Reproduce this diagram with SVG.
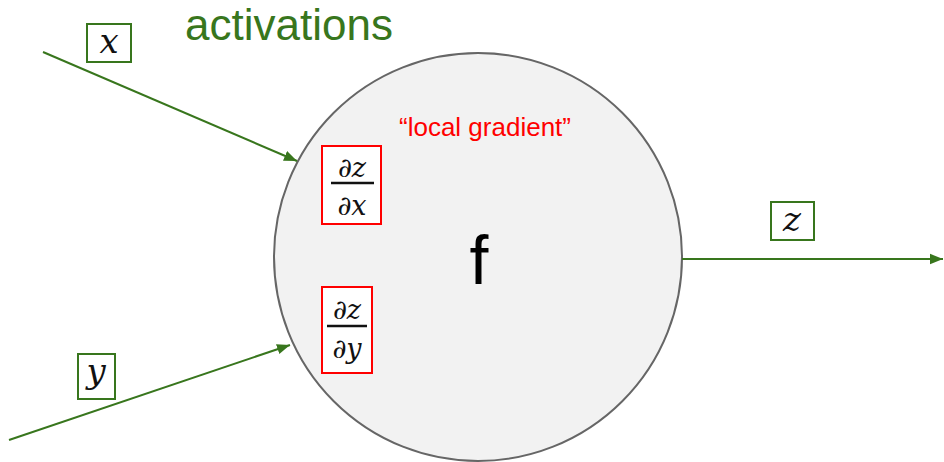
<svg xmlns="http://www.w3.org/2000/svg" width="944" height="462" viewBox="0 0 944 462">
<style>
.conn{stroke:#38761d;stroke-width:2;fill:none}
.gbox{fill:#fff;stroke:#38761d;stroke-width:2}
.rbox{fill:#fff;stroke:#ff0000;stroke-width:2}
.math{font-family:"DejaVu Serif","Liberation Serif",serif;font-style:italic;fill:#111}
.frac{font-family:"DejaVu Serif","Liberation Serif",serif;font-style:italic;fill:#111;font-size:27px;text-anchor:middle}
</style>
<defs>
<marker id="ah2" viewBox="0 0 10 10" refX="10" refY="5" markerWidth="13" markerHeight="13" markerUnits="userSpaceOnUse" orient="auto"><path d="M0,1 L10,5 L0,9 z" fill="#38761d"/></marker>
</defs>
<rect width="944" height="462" fill="#fff"/>
<g id="node-f">
<circle cx="478" cy="257" r="204" fill="#f2f2f2" stroke="#666" stroke-width="2"/>
<text x="479" y="284" font-family="Liberation Sans,Arial,sans-serif" font-size="68" text-anchor="middle" fill="#000">f</text>
</g>
<g id="connectors">
<line x1="43" y1="52" x2="297" y2="161" class="conn" marker-end="url(#ah2)"/>
<line x1="9" y1="440" x2="290" y2="345" class="conn" marker-end="url(#ah2)"/>
<line x1="682" y1="259" x2="943" y2="259" class="conn" marker-end="url(#ah2)"/>
</g>
<g id="title">
<text x="185" y="40" font-family="Liberation Sans,Arial,sans-serif" font-size="44" fill="#38761d">activations</text>
</g>
<g id="label-local">
<text x="485" y="136" font-family="Liberation Sans,Arial,sans-serif" font-size="26" fill="#ff0000" text-anchor="middle">“local gradient”</text>
</g>
<g id="label-x">
<rect x="87" y="24" width="44" height="38" class="gbox"/>
<text x="109" y="53" class="math" font-size="34" text-anchor="middle">x</text>
</g>
<g id="label-y">
<rect x="78" y="354" width="37" height="45" class="gbox"/>
<text x="96" y="383" class="math" font-size="34" text-anchor="middle">y</text>
</g>
<g id="label-z">
<rect x="771" y="202" width="43" height="38" class="gbox"/>
<text x="792" y="231" class="math" font-size="34" text-anchor="middle">z</text>
</g>
<g id="grad-x">
<rect x="322" y="146" width="59" height="78" class="rbox"/>
<text x="352" y="177" class="frac">∂z</text>
<line x1="331" y1="183" x2="374" y2="183" stroke="#111" stroke-width="2.5"/>
<text x="352" y="215" class="frac">∂x</text>
</g>
<g id="grad-y">
<rect x="322" y="287" width="50" height="86" class="rbox"/>
<text x="347" y="319" class="frac">∂z</text>
<line x1="327" y1="326" x2="367" y2="326" stroke="#111" stroke-width="2.5"/>
<text x="347" y="358" class="frac">∂y</text>
</g>
</svg>
